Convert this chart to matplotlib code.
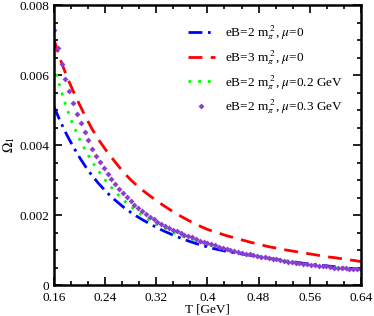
import matplotlib
matplotlib.use("Agg")
import matplotlib.pyplot as plt
import numpy as np
from matplotlib.ticker import MultipleLocator

plt.rcParams["font.family"] = ["Liberation Serif", "DejaVu Serif"]
plt.rcParams["mathtext.fontset"] = "stix"

# temperature grid [GeV] for the line curves
T = [0.16, 0.17, 0.18, 0.19, 0.20, 0.21, 0.22, 0.23, 0.24, 0.25,
     0.26, 0.27, 0.28, 0.29, 0.30, 0.31, 0.32, 0.33, 0.34, 0.35,
     0.36, 0.37, 0.38, 0.39, 0.40, 0.41, 0.42, 0.43, 0.44, 0.45,
     0.46, 0.47, 0.48, 0.49, 0.50, 0.51, 0.52, 0.53, 0.54, 0.55,
     0.56, 0.57, 0.58, 0.59, 0.60, 0.61, 0.62, 0.63, 0.64]

# eB = 2 m_pi^2, mu = 0
omega_eb2_mu0 = [0.00510, 0.00468, 0.00430, 0.00396, 0.00365, 0.00337, 0.00312, 0.00290, 0.00270, 0.00252,
                 0.00236, 0.00221, 0.00208, 0.00196, 0.00185, 0.00175, 0.00165, 0.00156, 0.00148, 0.00140,
                 0.00133, 0.00126, 0.00120, 0.00114, 0.00109, 0.00104, 0.00100, 0.00096, 0.00093, 0.00090,
                 0.00087, 0.00084, 0.00081, 0.00078, 0.00075, 0.00073, 0.00070, 0.00067, 0.00065, 0.00062,
                 0.00060, 0.00058, 0.00056, 0.00054, 0.00052, 0.00050, 0.00048, 0.00047, 0.00045]

# eB = 3 m_pi^2, mu = 0
omega_eb3_mu0 = [0.00703, 0.00645, 0.00597, 0.00555, 0.00516, 0.00479, 0.00445, 0.00415, 0.00389, 0.00365,
                 0.00342, 0.00320, 0.00301, 0.00284, 0.00269, 0.00255, 0.00242, 0.00229, 0.00217, 0.00205,
                 0.00195, 0.00185, 0.00176, 0.00167, 0.00159, 0.00153, 0.00147, 0.00141, 0.00136, 0.00131,
                 0.00126, 0.00121, 0.00117, 0.00112, 0.00108, 0.00105, 0.00101, 0.00098, 0.00095, 0.00092,
                 0.00089, 0.00086, 0.00083, 0.00080, 0.00078, 0.00075, 0.00072, 0.00070, 0.00067]

# eB = 2 m_pi^2, mu = 0.2 GeV
omega_eb2_mu02 = [0.00630, 0.00563, 0.00506, 0.00458, 0.00418, 0.00382, 0.00352, 0.00325, 0.00301, 0.00279,
                  0.00259, 0.00241, 0.00225, 0.00210, 0.00197, 0.00185, 0.00174, 0.00164, 0.00155, 0.00147,
                  0.00140, 0.00134, 0.00128, 0.00122, 0.00116, 0.00111, 0.00106, 0.00101, 0.00097, 0.00093,
                  0.00089, 0.00085, 0.00082, 0.00078, 0.00075, 0.00072, 0.00069, 0.00066, 0.00063, 0.00060,
                  0.00058, 0.00056, 0.00054, 0.00052, 0.00050, 0.00049, 0.00047, 0.00046, 0.00045]

# eB = 2 m_pi^2, mu = 0.3 GeV (symbols, sampled every 0.006 GeV)
T_sym = np.linspace(0.16, 0.64, 81)
omega_eb2_mu03 = [0.00730, 0.00678, 0.00631, 0.00590, 0.00553, 0.00520, 0.00490, 0.00462, 0.00437, 0.00413,
                  0.00390, 0.00370, 0.00351, 0.00334, 0.00318, 0.00302, 0.00288, 0.00275, 0.00262, 0.00251,
                  0.00240, 0.00230, 0.00220, 0.00211, 0.00203, 0.00195, 0.00188, 0.00181, 0.00174, 0.00168,
                  0.00163, 0.00158, 0.00153, 0.00149, 0.00144, 0.00140, 0.00136, 0.00132, 0.00127, 0.00124,
                  0.00120, 0.00116, 0.00113, 0.00110, 0.00107, 0.00104, 0.00101, 0.00098, 0.00095, 0.00092,
                  0.00090, 0.00088, 0.00085, 0.00083, 0.00081, 0.00079, 0.00077, 0.00074, 0.00073, 0.00071,
                  0.00069, 0.00067, 0.00065, 0.00064, 0.00062, 0.00060, 0.00059, 0.00058, 0.00056, 0.00055,
                  0.00054, 0.00053, 0.00052, 0.00050, 0.00050, 0.00049, 0.00048, 0.00047, 0.00046, 0.00046,
                  0.00045]

labels = [r"eB=2 m$_{\pi}^{\ 2}$, $\mu$=0",
          r"eB=3 m$_{\pi}^{\ 2}$, $\mu$=0",
          r"eB=2 m$_{\pi}^{\ 2}$, $\mu$=0.2 GeV",
          r"eB=2 m$_{\pi}^{\ 2}$, $\mu$=0.3 GeV"]

xticks = [0.16, 0.24, 0.32, 0.40, 0.48, 0.56, 0.64]
xticklabels = ["0.16", "0.24", "0.32", "0.4", "0.48", "0.56", "0.64"]
yticks = [0, 0.002, 0.004, 0.006, 0.008]
yticklabels = ["0", "0.002", "0.004", "0.006", "0.008"]

fig = plt.figure(figsize=(3.74, 3.16), dpi=100)
ax = fig.add_axes([0.144, 0.098, 0.821, 0.886])

ax.plot(T, omega_eb2_mu0, color="#0000ff", lw=2, dashes=(5, 2, 1, 2), label=labels[0])
ax.plot(T, omega_eb3_mu0, color="#ff0000", lw=2, dashes=(5, 3), label=labels[1])
ax.plot(T, omega_eb2_mu02, color="#00ff00", lw=2, dashes=(1, 2.5), label=labels[2])
ax.plot(T_sym, omega_eb2_mu03, color="#8a3fcf", ls="none", marker="D", ms=3, mew=0, label=labels[3])

ax.set_xlim(0.16, 0.64)
ax.set_ylim(0, 0.008)
ax.xaxis.set_minor_locator(MultipleLocator(0.08 / 3))
ax.yaxis.set_minor_locator(MultipleLocator(0.0005))
ax.set_xticks(xticks)
ax.set_xticklabels(xticklabels)
ax.set_yticks(yticks)
ax.set_yticklabels(yticklabels)

ax.tick_params(which="both", direction="in", top=True, right=True, labelsize=9.5, width=1.2)
ax.tick_params(which="major", length=6)
ax.tick_params(which="minor", length=3)
ax.tick_params(axis="x", pad=5)
for s in ax.spines.values():
    s.set_linewidth(1.8)

ax.set_xlabel("T [GeV]", fontsize=9.5, labelpad=0)
ax.set_ylabel(r"$\Omega_1$", fontsize=10)
ax.yaxis.set_label_coords(-0.12, 0.5)

ax.legend(loc="upper right", frameon=False, fontsize=9.5, handlelength=2.05,
          labelspacing=0.45, borderaxespad=1.0, handletextpad=0.75)

fig.savefig("out.png", dpi=100)
